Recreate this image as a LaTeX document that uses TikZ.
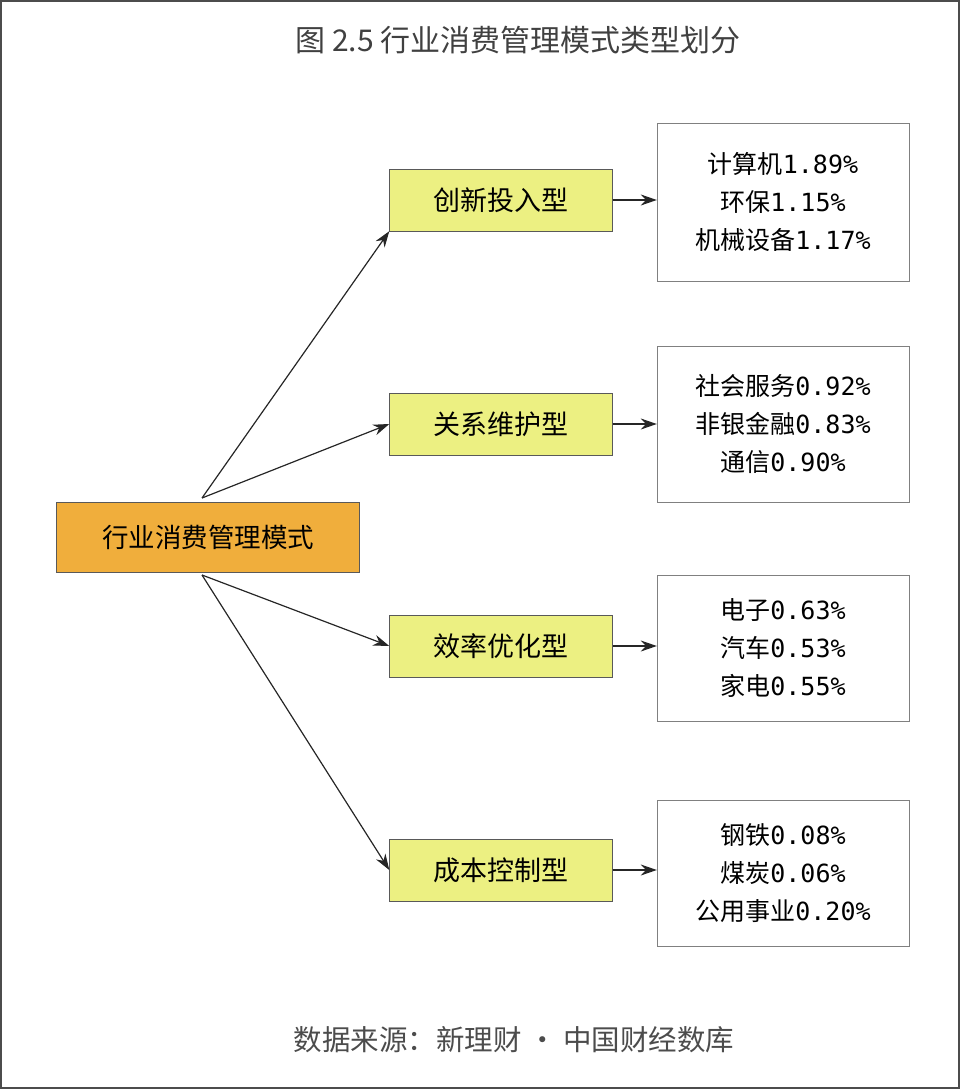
\documentclass[tikz,border=0pt]{standalone}
\usepackage{fontspec}
\setmainfont{Noto Sans CJK SC}
\newfontfamily\cjk{Noto Sans CJK SC}
\newfontfamily\monof{DejaVu Sans Mono}
\usetikzlibrary{arrows.meta}
\begin{document}
\begin{tikzpicture}[x=1pt,y=-1pt,
  rootbox/.style={draw=gray!70!black,fill={rgb,255:red,240;green,174;blue,60},minimum width=303pt,minimum height=70pt,font=\fontsize{26.5}{30}\selectfont,inner sep=0},
  midbox/.style={draw=gray!70!black,fill={rgb,255:red,236;green,240;blue,130},minimum width=223pt,minimum height=62pt,font=\fontsize{27}{30}\selectfont,inner sep=0},
  listbox/.style={draw=gray,fill=white,minimum width=252pt,minimum height=150pt,align=center,font=\fontsize{25}{38}\selectfont,inner sep=0},
  arr/.style={-{Stealth[length=16pt,width=11pt]},line width=1.2pt,black!85}]
\useasboundingbox (0,0) rectangle (960,1089);
\draw[line width=1.5pt,black!70] (1,1) rectangle (959,1088);
\node (title) at (518,40) {\fontsize{30}{34}\selectfont\color{black!75}图 2.5 行业消费管理模式类型划分};
\node[rootbox] (root) at (208,537) {行业消费管理模式};
\node[midbox] (m1) at (501,200) {创新投入型};
\node[midbox] (m2) at (501,424) {关系维护型};
\node[midbox] (m3) at (501,646) {效率优化型};
\node[midbox] (m4) at (501,870) {成本控制型};
\node[listbox,minimum height=158pt] (r1) at (783,202) {计算机{\monof 1.89\%}\\环保{\monof 1.15\%}\\机械设备{\monof 1.17\%}};
\node[listbox,minimum height=156pt] (r2) at (783,424) {社会服务{\monof 0.92\%}\\非银金融{\monof 0.83\%}\\通信{\monof 0.90\%}};
\node[listbox,minimum height=146pt] (r3) at (783,648) {电子{\monof 0.63\%}\\汽车{\monof 0.53\%}\\家电{\monof 0.55\%}};
\node[listbox,minimum height=146pt] (r4) at (783,873) {钢铁{\monof 0.08\%}\\煤炭{\monof 0.06\%}\\公用事业{\monof 0.20\%}};
\coordinate (rt) at (202,498);
\coordinate (rb) at (202,575);
\draw[arr] (rt) -- (m1.south west);
\draw[arr] (rt) -- (m2.west);
\draw[arr] (rb) -- (m3.west);
\draw[arr] (rb) -- (m4.west);
\foreach \i in {1,2,3,4} \draw[arr] (m\i.east) -- (r\i.west |- m\i.east);
\node (src) at (514,1040) {\fontsize{28.5}{32}\selectfont\color{black!70}数据来源：新理财 · 中国财经数库};
\end{tikzpicture}
\end{document}
